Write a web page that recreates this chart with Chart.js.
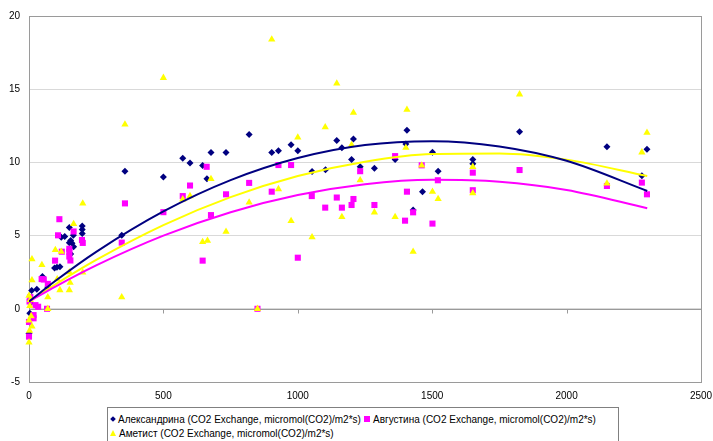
<!DOCTYPE html>
<html>
<head>
<meta charset="utf-8">
<script src="https://cdn.jsdelivr.net/npm/chart.js@4.4.0/dist/chart.umd.min.js"></script>
<style>
  body { margin: 0; background: #fff; }
  #wrap { position: relative; width: 713px; height: 441px; overflow: hidden; }
  #legend {
    position: absolute; left: 107px; top: 407px; width: 510px; height: 40px;
    border: 1px solid #808080; background: #fff;
    font: 10px "Liberation Sans", Arial, sans-serif; color: #000;
  }
  .item { position: absolute; white-space: nowrap; line-height: 12px; }
  .mk { display: inline-block; vertical-align: middle; margin-right: 3px; position: relative; top: -1px; }
  .dia { width: 4px; height: 4px; background: #000080; transform: rotate(45deg); margin-left: 1px; }
  .sq { width: 6px; height: 6px; background: #ff00ff; }
  .tri { width: 0; height: 0; border-left: 3px solid transparent; border-right: 3px solid transparent; border-bottom: 6px solid #ffff00; }
</style>
</head>
<body>
<div id="wrap">
  <canvas id="myChart" width="713" height="441"></canvas>
  <div id="legend">
    <span class="item" style="left:2px;top:6px"><span class="mk dia"></span>Александрина (CO2 Exchange, micromol(CO2)/m2*s)</span>
    <span class="item" style="left:256px;top:6px"><span class="mk sq"></span>Августина (CO2 Exchange, micromol(CO2)/m2*s)</span>
    <span class="item" style="left:2px;top:20px"><span class="mk tri"></span>Аметист (CO2 Exchange, micromol(CO2)/m2*s)</span>
  </div>
</div>
<script>
// Data

const seriesNames = ['Александрина (CO2 Exchange, micromol(CO2)/m2*s)', 'Августина (CO2 Exchange, micromol(CO2)/m2*s)', 'Аметист (CO2 Exchange, micromol(CO2)/m2*s)'];

const alexX = [0, 3, 5, 10, 29, 50, 70, 95, 104, 115, 120, 133, 150, 150, 155, 155, 160, 166, 165, 198, 198, 198, 345, 357, 500, 572, 599, 646, 662, 677, 733, 819, 903, 928, 975, 1000, 1053, 1103, 1145, 1164, 1200, 1207, 1232, 1285, 1362, 1402, 1406, 1429, 1464, 1501, 1522, 1651, 1651, 1825, 2150, 2280, 2299];
const alexY = [-1.68, -0.3, 0.4, 1.25, 1.34, 2.2, 1.48, 2.78, 2.84, 2.88, 4.89, 4.93, 4.52, 5.55, 4.66, 3.75, 4.47, 4.24, 5.02, 5.65, 5.42, 5.15, 5.02, 9.39, 9.0, 10.28, 9.96, 9.78, 8.89, 10.68, 10.68, 11.9, 10.68, 10.8, 11.2, 10.8, 9.38, 9.5, 11.5, 11.0, 10.2, 11.6, 9.7, 9.6, 10.2, 11.25, 12.2, 6.75, 8.0, 10.7, 9.4, 10.2, 9.9, 12.1, 11.07, 9.09, 10.89];

const augX = [0, 0, 2, 5, 17, 17, 24, 34, 47, 55, 67, 70, 97, 108, 113, 122, 150, 150, 150, 154, 166, 197, 200, 345, 357, 500, 572, 599, 646, 661, 677, 733, 819, 850, 903, 928, 975, 1000, 1052, 1102, 1145, 1164, 1200, 1207, 1232, 1285, 1362, 1399, 1406, 1429, 1461, 1501, 1521, 1651, 1651, 1825, 2150, 2280, 2299];
const augY = [-1.9, -0.9, 0.5, 0.8, -0.43, -0.65, 0.25, 0.14, 2.03, 2.0, 0, 1.7, 3.29, 5.02, 6.12, 3.9, 4.1, 3.9, 3.57, 3.3, 5.28, 4.7, 4.5, 4.52, 7.2, 6.6, 7.7, 8.42, 3.29, 9.7, 6.4, 7.82, 8.6, 0, 8.0, 9.82, 9.82, 3.49, 7.7, 6.91, 7.6, 6.91, 7.09, 7.5, 9.4, 7.09, 10.43, 6.02, 8.0, 6.59, 9.8, 5.82, 8.78, 9.3, 8.1, 9.48, 8.39, 8.62, 7.82];

const ametX = [0, 2, 11, 0, 8, 3, 5, 0, 11, 11, 48, 70, 70, 98, 105, 115, 120, 150, 153, 150, 166, 200, 200, 345, 357, 500, 572, 599, 646, 664, 677, 733, 819, 850, 903, 928, 975, 1000, 1053, 1102, 1145, 1164, 1200, 1207, 1232, 1285, 1362, 1402, 1406, 1429, 1461, 1501, 1522, 1651, 1651, 1825, 2150, 2280, 2299];
const ametY = [-2.3, -1.5, -1.2, -0.8, -0.5, 0.2, 0.6, 0.9, 1.96, 3.39, 3.0, 0.8, 0, 4.02, 2.03, 1.28, 3.9, 1.28, 1.79, 2.5, 5.8, 7.2, 2.48, 0.8, 12.6, 15.78, 7.48, 7.7, 4.57, 4.66, 8.87, 5.27, 7.27, 0, 18.4, 8.18, 6.0, 11.7, 4.89, 12.4, 15.4, 6.28, 11.2, 13.4, 8.78, 6.59, 6.28, 11.0, 13.6, 3.9, 9.8, 8.0, 7.5, 9.7, 7.9, 14.65, 8.57, 10.69, 12.03];

// trendlines, read at these x positions
const trendX = [0, 100, 250, 500, 750, 1000, 1250, 1500, 1750, 2000, 2300];
const alexTrend = [0.5, 1.93, 3.89, 6.65, 8.79, 10.3, 11.19, 11.45, 11.09, 10.11, 8.05];
const augTrend = [0.5, 1.54, 2.97, 5.0, 6.6, 7.77, 8.51, 8.81, 8.68, 8.12, 6.87];
const ametTrend = [0.5, 1.69, 3.34, 5.72, 7.63, 9.07, 10.05, 10.57, 10.61, 10.19, 9.07];

const colors = ['#000080', '#ff00ff', '#ffff00'];

function pts(xs, ys) {
    return xs.map((x, i) => ({ x: x, y: ys[i] }));
}

function trend(ys, color) {
    return {
        data: pts(trendX, ys),
        showLine: true,
        borderColor: color,
        borderWidth: 2,
        pointRadius: 0,
        cubicInterpolationMode: 'monotone',
        order: 0
    };
}

// plot frame + x axis at y = 0
const frame = {
    id: 'frame',
    beforeDatasetsDraw(chart) {
        const { ctx, chartArea: a, scales } = chart;
        ctx.save();
        ctx.strokeStyle = '#9a9a9a';
        ctx.lineWidth = 1;
        ctx.strokeRect(Math.round(a.left) + 0.5, Math.round(a.top) + 0.5,
            Math.round(a.right - a.left), Math.round(a.bottom - a.top));
        const y0 = Math.round(scales.y.getPixelForValue(0)) + 0.5;
        ctx.beginPath();
        ctx.moveTo(a.left, y0);
        ctx.lineTo(a.right, y0);
        scales.x.ticks.forEach(t => {
            const px = Math.round(scales.x.getPixelForValue(t.value)) + 0.5;
            ctx.moveTo(px, y0);
            ctx.lineTo(px, y0 + 4);
        });
        ctx.stroke();
        ctx.restore();
    }
};

const ctx = document.getElementById('myChart').getContext('2d');

new Chart(ctx, {
    type: 'scatter',
    data: {
        datasets: [
            trend(alexTrend, colors[0]),
            trend(augTrend, colors[1]),
            trend(ametTrend, colors[2]),
            {
                label: seriesNames[0],
                data: pts(alexX, alexY),
                pointStyle: 'rectRot',
                pointRadius: 3.5,
                backgroundColor: colors[0],
                borderColor: colors[0],
                borderWidth: 0,
                clip: false,
                order: 3
            },
            {
                label: seriesNames[1],
                data: pts(augX, augY),
                pointStyle: 'rect',
                pointRadius: 4.3,
                backgroundColor: colors[1],
                borderColor: colors[1],
                borderWidth: 0,
                clip: false,
                order: 2
            },
            {
                label: seriesNames[2],
                data: pts(ametX, ametY),
                pointStyle: 'triangle',
                pointRadius: 4.2,
                backgroundColor: colors[2],
                borderColor: colors[2],
                borderWidth: 0,
                clip: false,
                order: 1
            }
        ]
    },
    options: {
        responsive: false,
        animation: false,
        layout: { padding: { top: 16, right: 12, left: 0, bottom: 37 } },
        plugins: {
            legend: { display: false },
            tooltip: { enabled: false }
        },
        scales: {
            x: {
                type: 'linear',
                min: 0,
                max: 2500,
                ticks: {
                    stepSize: 500,
                    color: '#000',
                    padding: 8,
                    maxRotation: 0,
                    font: { family: 'Liberation Sans', size: 10 },
                    callback: v => String(v)
                },
                grid: { display: false, drawTicks: false },
                border: { display: false },
                afterFit(s) {
                    s.height = 22;
                    s.paddingLeft = 0;
                    s.paddingRight = 0;
                }
            },
            y: {
                min: -5,
                max: 20,
                ticks: {
                    stepSize: 5,
                    color: '#000',
                    padding: 9,
                    font: { family: 'Liberation Sans', size: 10 }
                },
                grid: { color: '#d9d9d9', drawTicks: false },
                border: { display: false },
                afterFit(s) {
                    s.width = 29;
                    s.paddingTop = 0;
                    s.paddingBottom = 0;
                }
            }
        }
    },
    plugins: [frame]
});
</script>
</body>
</html>
